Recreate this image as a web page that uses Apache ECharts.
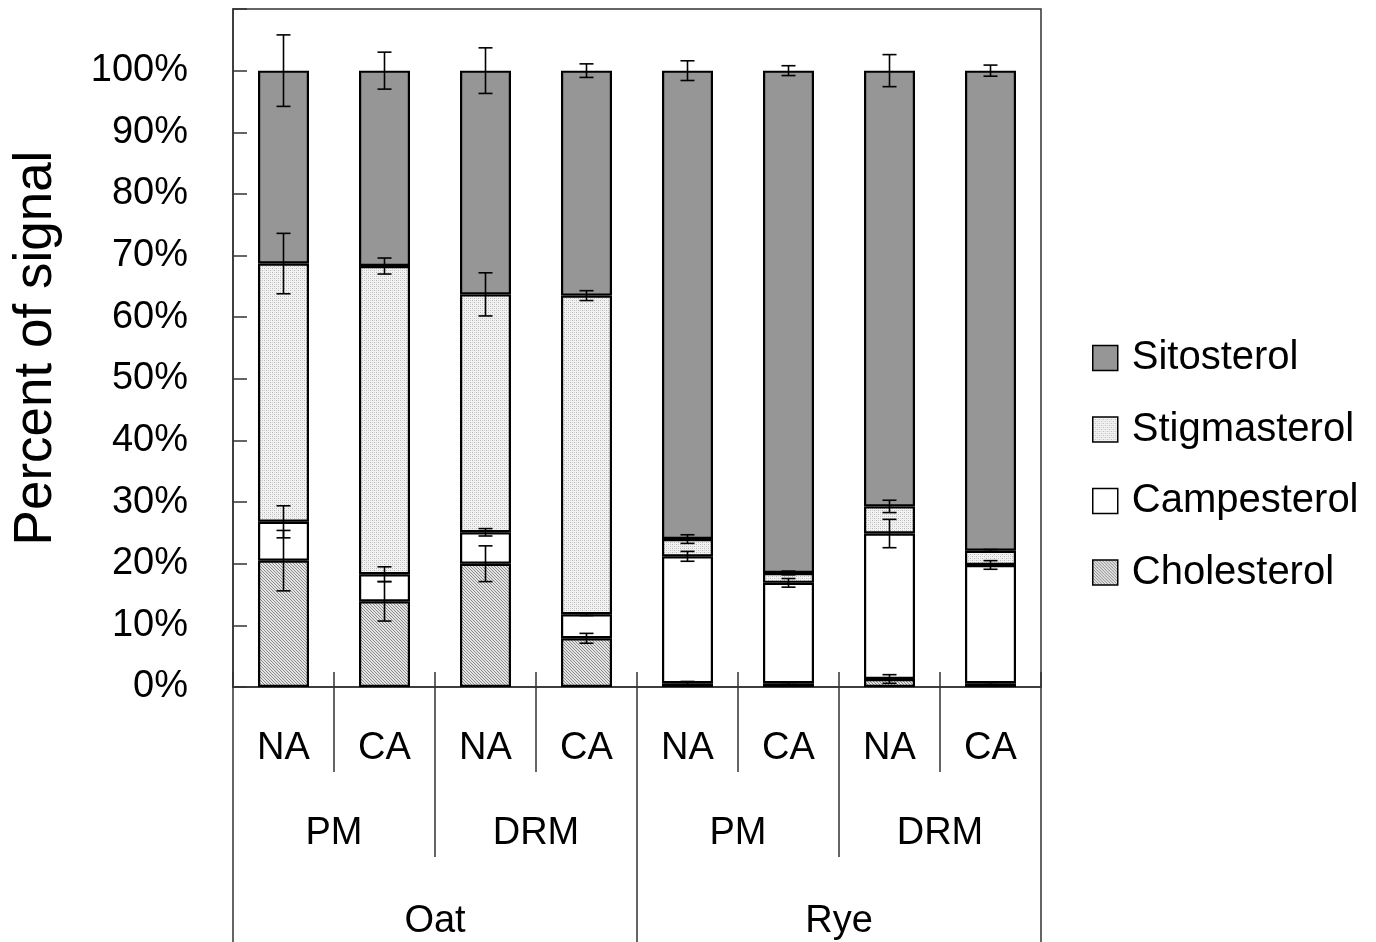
<!DOCTYPE html>
<html lang="en">
<head>
<meta charset="UTF-8">
<title>Percent of signal</title>
<script src="https://cdn.jsdelivr.net/npm/echarts@6/dist/echarts.min.js"></script>
<style>
    html, body { margin: 0; padding: 0; background: #fff; }
    #container { width: 1376px; height: 942px; }
</style>
</head>
<body>
<div id="container"></div>
<script type="text/javascript">
    // categories, three levels
    var treatments = ['NA', 'CA', 'NA', 'CA', 'NA', 'CA', 'NA', 'CA'];
    var fractions = ['PM', 'DRM', 'PM', 'DRM'];
    var species = ['Oat', 'Rye'];
    var yTicks = [0, 10, 20, 30, 40, 50, 60, 70, 80, 90, 100];

    // segment values (%)
    var cholesterol = [20.5, 13.9, 20.0, 7.9, 0.6, 0.6, 1.3, 0.6];
    var campesterol = [6.3, 4.4, 5.1, 3.9, 20.6, 16.3, 23.6, 19.2];
    var stigmasterol = [41.9, 50.0, 38.6, 51.7, 2.8, 1.6, 4.4, 2.3];
    var sitosterol = [31.3, 31.7, 36.3, 36.5, 76.0, 81.5, 70.7, 77.9];

    // error bar half-lengths (%)
    var cholesterolErr = [4.9, 3.2, 2.9, 0.8, 0.3, 0.2, 0.7, 0.2];
    var campesterolErr = [2.6, 1.2, 0.6, 0.2, 0.8, 0.7, 2.3, 0.7];
    var stigmasterolErr = [4.9, 1.3, 3.5, 0.8, 0.7, 0.3, 1.0, 0.2];
    var sitosterolErr = [5.8, 3.0, 3.7, 1.1, 1.6, 0.8, 2.6, 0.9];

    // fill patterns
    function hatchPattern() {
        var c = document.createElement('canvas');
        c.width = 6; c.height = 6;
        var ctx = c.getContext('2d');
        ctx.fillStyle = '#e4e4e4';
        ctx.fillRect(0, 0, 6, 6);
        ctx.fillStyle = '#8a8a8a';
        for (var y = 0; y < 6; y++) {
            for (var x = 0; x < 6; x++) {
                if ((x - y + 6) % 3 === 0) ctx.fillRect(x, y, 1, 1);
            }
        }
        return c;
    }
    function dotPattern() {
        var c = document.createElement('canvas');
        c.width = 4; c.height = 4;
        var ctx = c.getContext('2d');
        ctx.fillStyle = '#f2f2f2';
        ctx.fillRect(0, 0, 4, 4);
        ctx.fillStyle = '#b8b8b8';
        ctx.fillRect(0, 0, 1, 1);
        ctx.fillRect(2, 2, 1, 1);
        ctx.fillStyle = '#d6d6d6';
        ctx.fillRect(2, 0, 1, 1);
        ctx.fillRect(0, 2, 1, 1);
        return c;
    }

    var segments = [
        { name: 'Cholesterol', data: cholesterol, err: cholesterolErr, color: { image: hatchPattern(), repeat: 'repeat' } },
        { name: 'Campesterol', data: campesterol, err: campesterolErr, color: '#ffffff' },
        { name: 'Stigmasterol', data: stigmasterol, err: stigmasterolErr, color: { image: dotPattern(), repeat: 'repeat' } },
        { name: 'Sitosterol', data: sitosterol, err: sitosterolErr, color: '#969696' }
    ];

    var series = [];
    var running = treatments.map(function () { return 0; });
    var errSeries = [];
    segments.forEach(function (s) {
        series.push({
            name: s.name,
            type: 'bar',
            stack: 'total',
            barWidth: 51,
            data: s.data,
            itemStyle: { color: s.color, borderColor: '#000', borderWidth: 2.2 },
            emphasis: { disabled: true }
        });
        var errData = s.data.map(function (v, i) {
            running[i] += v;
            return [i, running[i], s.err[i]];
        });
        errSeries.push({
            type: 'custom',
            z: 5,
            data: errData,
            encode: { x: 0, y: 1 },
            renderItem: function (params, api) {
                var x = api.value(0), top = api.value(1), e = api.value(2);
                var hi = api.coord([x, top + e]);
                var lo = api.coord([x, top - e]);
                var cap = 7;
                var st = { stroke: '#000', lineWidth: 1.6 };
                return {
                    type: 'group',
                    children: [
                        { type: 'line', shape: { x1: hi[0], y1: hi[1], x2: lo[0], y2: lo[1] }, style: st },
                        { type: 'line', shape: { x1: hi[0] - cap, y1: hi[1], x2: hi[0] + cap, y2: hi[1] }, style: st },
                        { type: 'line', shape: { x1: lo[0] - cap, y1: lo[1], x2: lo[0] + cap, y2: lo[1] }, style: st }
                    ]
                };
            }
        });
    });

    var axisColor = '#333';
    var font = 'Liberation Sans, Arial, sans-serif';

    // one category axis per label row, all sitting on the bottom edge
    function levelAxis(data, tickLen, labelMargin, showLine) {
        return {
            type: 'category', data: data,
            position: 'bottom', offset: 0,
            axisLine: { show: showLine, lineStyle: { color: axisColor, width: 1.5 } },
            axisTick: { show: true, interval: 0, length: tickLen, lineStyle: { color: axisColor, width: 1.5 } },
            axisLabel: { show: labelMargin !== null, fontSize: 38, color: '#000', margin: labelMargin || 0, interval: 0 }
        };
    }
    var innerTicks = levelAxis(treatments, 15, null, false);
    innerTicks.axisTick.inside = true;

    var option = {
        animation: false,
        textStyle: { fontFamily: font },
        grid: {
            left: 233, right: 335, top: 9, bottom: 255,
            outerBoundsMode: 'none',
            containLabel: false,
            show: true, borderColor: axisColor, borderWidth: 1.5
        },
        legend: {
            data: ['Sitosterol', 'Stigmasterol', 'Campesterol', 'Cholesterol'],
            orient: 'vertical',
            left: 1087, top: 333,
            itemWidth: 25, itemHeight: 25,
            itemGap: 31.5,
            icon: 'rect',
            itemStyle: { borderColor: '#000', borderWidth: 1.5 },
            textStyle: { fontSize: 40, color: '#000', fontFamily: font, padding: [0, 0, 0, 9] }
        },
        xAxis: [
            levelAxis(treatments, 85, 43, true),
            innerTicks,
            levelAxis(fractions, 170, 128, false),
            levelAxis(species, 255, 216, false)
        ],
        yAxis: {
            type: 'value', min: 0, max: 110, interval: 10,
            name: 'Percent of signal',
            nameLocation: 'middle', nameRotate: 90, nameGap: 170,
            nameTextStyle: { fontSize: 53, color: '#000' },
            axisLine: { show: true, lineStyle: { color: axisColor, width: 1.5 } },
            axisTick: { show: true, inside: true, length: 14, lineStyle: { color: axisColor, width: 1.5 } },
            splitLine: { show: false },
            axisLabel: {
                fontSize: 38, color: '#000', margin: 45,
                formatter: function (v) { return yTicks.indexOf(v) >= 0 ? v + '%' : ''; }
            }
        },
        series: series.concat(errSeries)
    };

    var myChart = echarts.init(document.getElementById('container'), null, { renderer: 'canvas' });
    myChart.setOption(option);
    window.addEventListener('resize', myChart.resize);
</script>
</body>
</html>
